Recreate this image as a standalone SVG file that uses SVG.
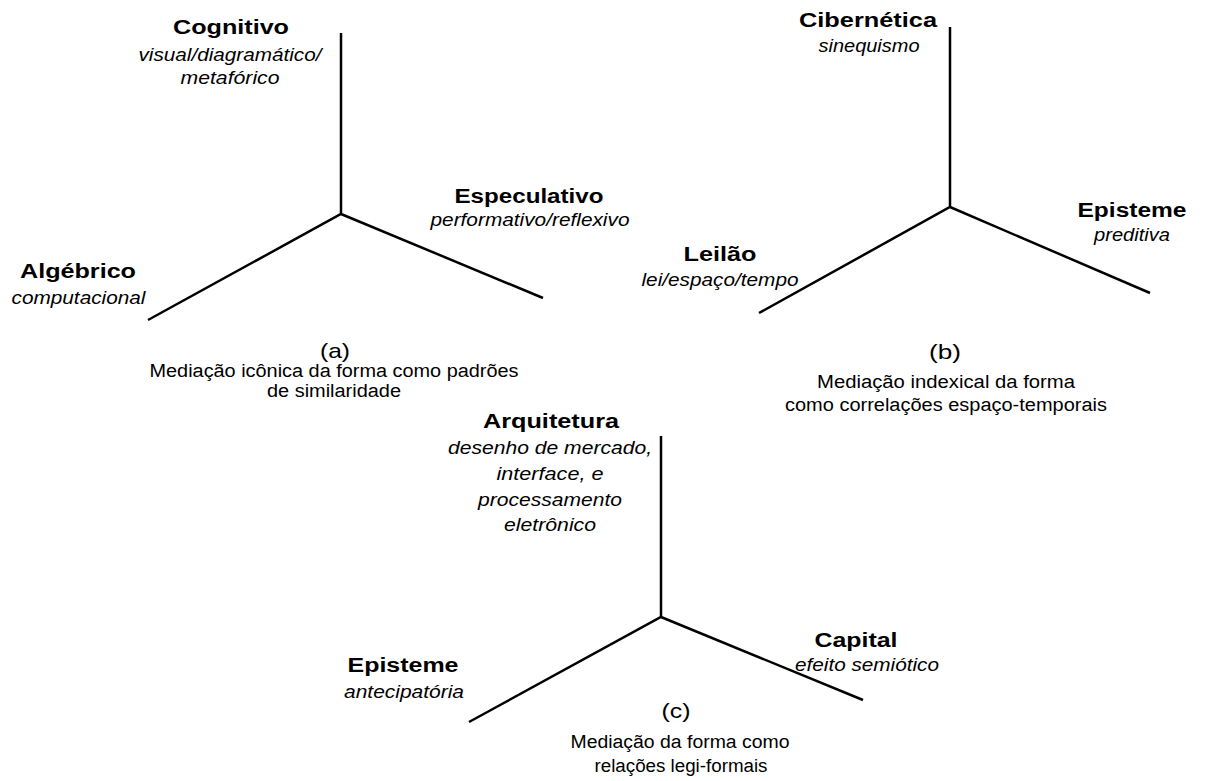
<svg xmlns="http://www.w3.org/2000/svg" width="1205" height="781" viewBox="0 0 1205 781">
<style>
.t{font-family:"Liberation Sans",Arial,sans-serif;fill:#000;text-anchor:middle}
.b{font-weight:bold;font-size:20px}
.i{font-style:italic;font-size:18px}
.c{font-size:18px}
.l{font-size:21px}
.ax{stroke:#000;stroke-width:2.5;fill:none;stroke-linejoin:miter}
</style>
<rect width="1205" height="781" fill="#fff"/>
<g id="connectors">
<path class="ax" d="M341 33V214M148 320L341 214L543 298"/>
<path class="ax" d="M950 27V207M759 313L950 207L1150 293"/>
<path class="ax" d="M661 436V617M469 722L661 617L863 700"/>
</g>
<g id="a-cognitivo">
<text class="t b" x="231" y="34" textLength="116" lengthAdjust="spacingAndGlyphs">Cognitivo</text>
<text class="t i" x="230" y="61" textLength="183" lengthAdjust="spacingAndGlyphs">visual/diagramático/</text>
<text class="t i" x="230" y="84" textLength="99" lengthAdjust="spacingAndGlyphs">metafórico</text>
</g>
<g id="a-especulativo">
<text class="t b" x="529" y="203" textLength="149" lengthAdjust="spacingAndGlyphs">Especulativo</text>
<text class="t i" x="530" y="226" textLength="199" lengthAdjust="spacingAndGlyphs">performativo/reflexivo</text>
</g>
<g id="a-algebrico">
<text class="t b" x="78" y="278" textLength="116" lengthAdjust="spacingAndGlyphs">Algébrico</text>
<text class="t i" x="78.5" y="304" textLength="134" lengthAdjust="spacingAndGlyphs">computacional</text>
</g>
<g id="a-caption">
<text class="t l" x="335" y="358" textLength="30" lengthAdjust="spacingAndGlyphs">(a)</text>
<text class="t c" x="334" y="377" textLength="369" lengthAdjust="spacingAndGlyphs">Mediação icônica da forma como padrões</text>
<text class="t c" x="334" y="397" textLength="134" lengthAdjust="spacingAndGlyphs">de similaridade</text>
</g>
<g id="b-cibernetica">
<text class="t b" x="868" y="27" textLength="138" lengthAdjust="spacingAndGlyphs">Cibernética</text>
<text class="t i" x="869" y="52" textLength="101" lengthAdjust="spacingAndGlyphs">sinequismo</text>
</g>
<g id="b-episteme">
<text class="t b" x="1132" y="217" textLength="109" lengthAdjust="spacingAndGlyphs">Episteme</text>
<text class="t i" x="1132" y="241" textLength="76" lengthAdjust="spacingAndGlyphs">preditiva</text>
</g>
<g id="b-leilao">
<text class="t b" x="720" y="261" textLength="73" lengthAdjust="spacingAndGlyphs">Leilão</text>
<text class="t i" x="720" y="286" textLength="157" lengthAdjust="spacingAndGlyphs">lei/espaço/tempo</text>
</g>
<g id="b-caption">
<text class="t l" x="945" y="359" textLength="32" lengthAdjust="spacingAndGlyphs">(b)</text>
<text class="t c" x="946" y="388" textLength="258" lengthAdjust="spacingAndGlyphs">Mediação indexical da forma</text>
<text class="t c" x="946" y="411" textLength="322" lengthAdjust="spacingAndGlyphs">como correlações espaço-temporais</text>
</g>
<g id="c-arquitetura">
<text class="t b" x="551" y="428" textLength="136" lengthAdjust="spacingAndGlyphs">Arquitetura</text>
<text class="t i" x="550" y="454" textLength="204" lengthAdjust="spacingAndGlyphs">desenho de mercado,</text>
<text class="t i" x="550" y="480" textLength="107" lengthAdjust="spacingAndGlyphs">interface, e</text>
<text class="t i" x="550" y="506" textLength="144" lengthAdjust="spacingAndGlyphs">processamento</text>
<text class="t i" x="550" y="531" textLength="92" lengthAdjust="spacingAndGlyphs">eletrônico</text>
</g>
<g id="c-episteme">
<text class="t b" x="403" y="672" textLength="111" lengthAdjust="spacingAndGlyphs">Episteme</text>
<text class="t i" x="404" y="698" textLength="120" lengthAdjust="spacingAndGlyphs">antecipatória</text>
</g>
<g id="c-capital">
<text class="t b" x="856" y="647" textLength="83" lengthAdjust="spacingAndGlyphs">Capital</text>
<text class="t i" x="867" y="671" textLength="144" lengthAdjust="spacingAndGlyphs">efeito semiótico</text>
</g>
<g id="c-caption">
<text class="t l" x="676" y="718" textLength="29" lengthAdjust="spacingAndGlyphs">(c)</text>
<text class="t c" x="680" y="748" textLength="219" lengthAdjust="spacingAndGlyphs">Mediação da forma como</text>
<text class="t c" x="681" y="772" textLength="173" lengthAdjust="spacingAndGlyphs">relações legi-formais</text>
</g>
</svg>
